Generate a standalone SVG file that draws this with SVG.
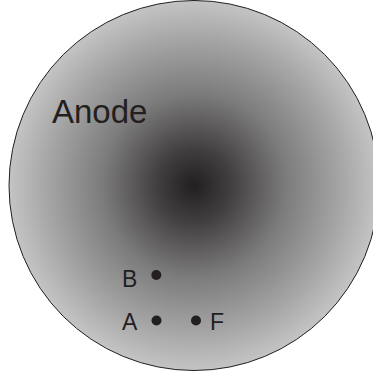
<svg xmlns="http://www.w3.org/2000/svg" width="373" height="375" viewBox="0 0 373 375">
<defs>
<radialGradient id="g" cx="0.5" cy="0.5" r="0.5">
<stop offset="0" stop-color="#231f20"/>
<stop offset="0.2" stop-color="#423f40"/>
<stop offset="0.5" stop-color="#7d7c7c"/>
<stop offset="0.8" stop-color="#a6a6a6"/>
<stop offset="1" stop-color="#c4c4c4"/>
</radialGradient>
</defs>
<style>
text{font-family:"Liberation Sans",Arial,sans-serif;fill:#231f20}
.lbl{font-size:23px}
.dot{fill:#231f20}
</style>
<g id="anode">
<circle cx="194" cy="185.5" r="185" fill="url(#g)" stroke="#231f20" stroke-width="1"/>
<text x="52" y="123" style="font-size:33px">Anode</text>
</g>
<g id="B"><circle class="dot" cx="156.3" cy="275" r="5"/><text class="lbl" x="122" y="287">B</text></g>
<g id="A"><circle class="dot" cx="156.5" cy="320.5" r="5"/><text class="lbl" x="122" y="330">A</text></g>
<g id="F"><circle class="dot" cx="196" cy="320.5" r="5"/><text class="lbl" x="210" y="330">F</text></g>
<g id="connectors"/>
</svg>
